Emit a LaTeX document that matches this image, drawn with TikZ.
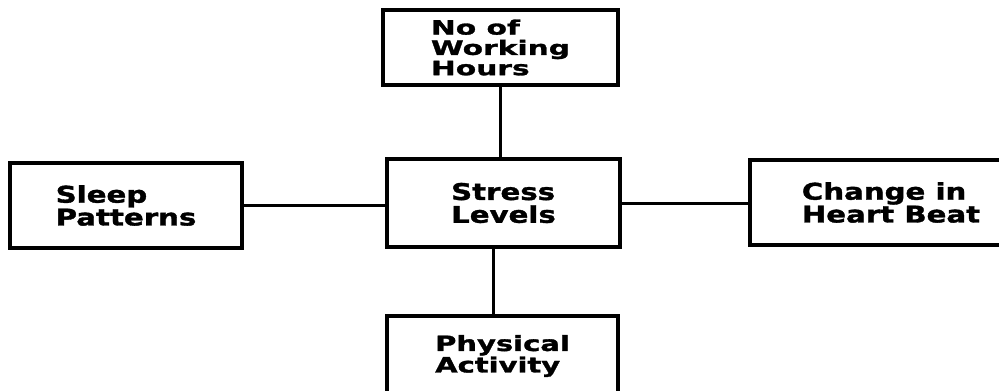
\documentclass[tikz,border=0pt]{standalone}
\usepackage{fontspec}
\setmainfont{DejaVu Sans}
\newfontfamily\fmain[FakeStretch=1.27,FakeBold=1.5]{DejaVu Sans Bold}
\newfontfamily\ftop[FakeStretch=1.5,FakeBold=1.5]{DejaVu Sans Bold}
\newfontfamily\fbot[FakeStretch=1.38,FakeBold=1.5]{DejaVu Sans Bold}
\begin{document}
\begin{tikzpicture}[x=1pt,y=-1pt,
  box/.style={draw=black, line width=4pt, fill=white, outer sep=0pt, inner sep=0pt,
    align=left, text=black, font=\fmain\fontsize{23}{22.8}\selectfont},
  link/.style={draw=black, line width=3pt}]
\useasboundingbox (0,0) rectangle (999,391);
\node[box, minimum width=235pt, minimum height=75pt, font=\ftop\fontsize{19.8}{20.3}\selectfont] (top) at (500.5,47.5) {No of\\Working\\Hours};
\node[box, minimum width=232pt, minimum height=85pt] (left) at (126,205.5) {Sleep\\Patterns};
\node[box, minimum width=233pt, minimum height=88pt] (center) at (503.5,203) {Stress\\Levels};
\node[box, minimum width=282pt, minimum height=85pt] (right) at (891,202.5) {Change in\\Heart Beat};
\node[box, minimum width=231pt, minimum height=80pt, font=\fbot\fontsize{21}{18.8}\selectfont] (bottom) at (502.5,356) {Physical\\Activity};
\draw[link] (top.south) -- (top.south |- center.north);
\draw[link] (left.east) -- (left.east -| center.west);
\draw[link] (center.east) -- (center.east -| right.west);
\draw[link] ([xshift=-10pt]center.south) -- ([xshift=-10pt]center.south |- bottom.north);
\end{tikzpicture}
\end{document}
